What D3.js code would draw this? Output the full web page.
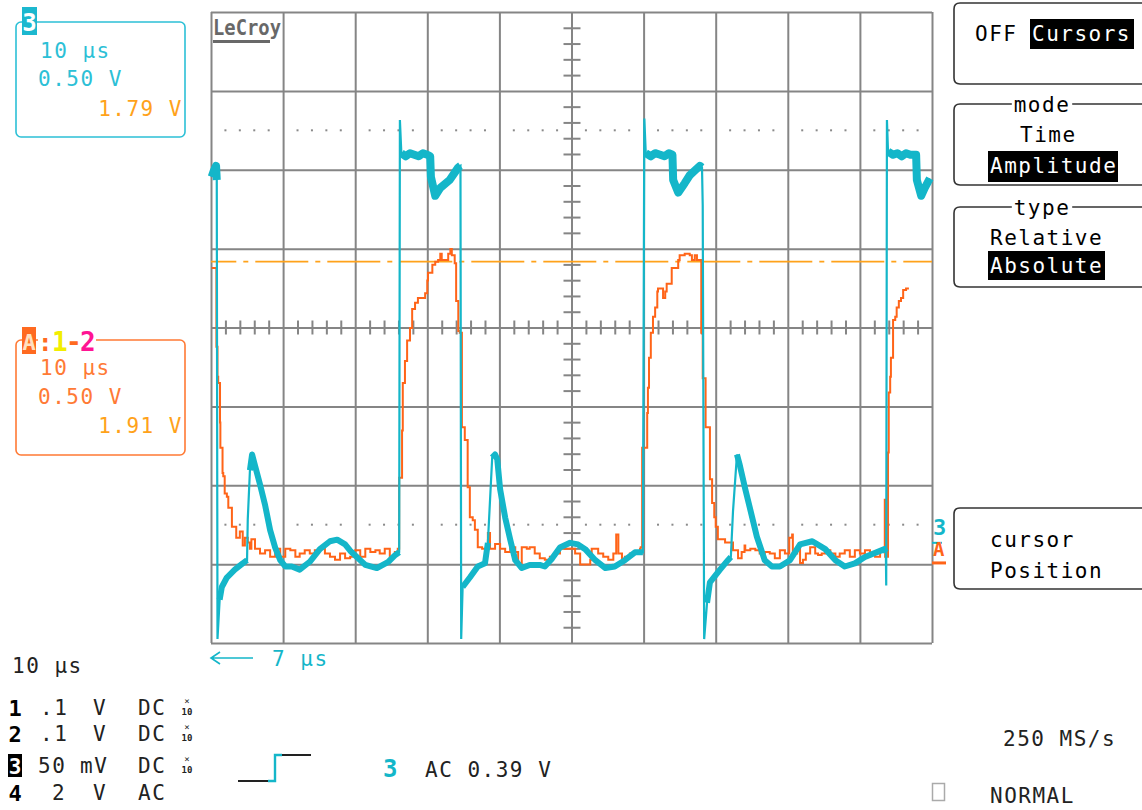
<!DOCTYPE html>
<html><head><meta charset="utf-8">
<script src="https://cdn.jsdelivr.net/npm/d3@7/dist/d3.min.js"></script>
<style>
html,body{margin:0;padding:0;background:#fff;}
svg{display:block;}
text{font-family:"DejaVu Sans Mono","Liberation Mono",monospace;}
</style></head>
<body>
<svg id="scope" width="1142" height="810"></svg>
<script>
// ---------------- DATA ----------------
// time axis: 10 divisions x 10 µs/div ; vertical: 8 divisions, 0.5 V/div
const timeDivs = d3.range(0, 101, 10);          // µs, major grid
const voltDivs = d3.range(-4, 5, 1);            // divisions, major grid
const voltsPerDiv = 0.5;
const ch3OffsetDiv = -2.73;                     // channel 3 ground level (div)
const mathAOffsetDiv = -2.985;                  // trace A ground level (div)
const cursorVolts = 1.91;                       // absolute amplitude cursor on A

// Channel 3 (cyan) : [time µs, volts]
const ch3Trace = [
 [0.1,2.32],[0.4,2.36],[0.7,2.39],[0.8,2.30],[0.9,-0.61],[1.2,-0.36],[1.5,-0.28],[2.2,-0.22],[3.3,-0.17],
 [4.4,-0.13],[5.0,-0.11],[5.1,0.15],[5.4,0.46],[5.7,0.56],[6.1,0.49],[6.8,0.37],[7.5,0.24],[8.2,0.08],
 [8.9,-0.03],[9.6,-0.11],[10.3,-0.15],[11.2,-0.15],[12.3,-0.17],[13.7,-0.12],[15.1,-0.04],[16.5,0.01],
 [17.5,0.02],[18.6,-0.01],[19.3,-0.05],[20.0,-0.08],[21.4,-0.14],[23.0,-0.16],[24.6,-0.12],[25.5,-0.08],
 [26.1,-0.06],[26.2,2.68],[26.4,2.47],[27.0,2.45],[27.6,2.47],[28.2,2.46],[28.8,2.45],[29.4,2.47],
 [30.0,2.46],[30.4,2.45],[30.5,2.32],[31.1,2.20],[31.8,2.25],[33.1,2.30],[34.3,2.38],[34.6,2.39],
 [34.7,-0.61],[34.9,-0.28],[35.9,-0.22],[37.0,-0.15],[38.0,-0.13],[38.4,0.0],[39.0,0.54],[39.4,0.56],
 [39.7,0.53],[40.1,0.34],[40.8,0.16],[41.5,0.02],[42.2,-0.11],[43.1,-0.16],[44.2,-0.14],[45.6,-0.14],
 [46.3,-0.15],[47.3,-0.10],[48.4,-0.03],[49.8,0.0],[50.9,-0.01],[51.9,-0.04],[53.3,-0.11],[54.7,-0.16],
 [56.0,-0.15],[57.4,-0.11],[58.8,-0.06],[59.9,-0.06],[60.1,2.69],[60.3,2.47],[61.0,2.45],[61.6,2.47],
 [62.3,2.46],[62.9,2.45],[63.5,2.47],[64.0,2.46],[64.1,2.30],[64.8,2.22],[65.7,2.28],[66.4,2.33],
 [67.8,2.39],[68.1,2.38],[68.2,2.14],[68.4,-0.61],[68.8,-0.38],[69.2,-0.25],[70.6,-0.17],[71.7,-0.11],
 [72.1,-0.09],[72.4,0.20],[72.95,0.56],[73.3,0.50],[74.1,0.34],[74.8,0.21],[75.7,0.04],[76.8,-0.11],
 [77.8,-0.15],[78.9,-0.15],[80.3,-0.11],[81.7,-0.01],[83.4,0.01],[85.2,-0.04],[86.6,-0.11],[87.9,-0.15],
 [89.3,-0.13],[90.7,-0.09],[93.4,-0.04],[93.6,-0.06],[93.65,-0.27],[93.75,2.68],[93.9,2.48],[94.6,2.46],
 [95.2,2.47],[95.8,2.45],[96.4,2.47],[97.0,2.46],[97.8,2.46],[97.9,2.30],[98.5,2.20],[99.0,2.25],[99.7,2.31]
];

// Trace A = 1-2 (orange) : [time µs, volts]
const mathATrace = [
 [0.1,1.87],[0.7,1.87],[0.75,1.37],[0.9,1.18],[1.0,1.14],[1.25,0.89],[1.3,0.73],[1.5,0.73],[1.6,0.57],
 [1.7,0.55],[1.9,0.44],[2.2,0.42],[2.4,0.35],[2.9,0.23],[3.5,0.16],[4.0,0.20],[4.4,0.11],[4.7,0.16],
 [5.1,0.13],[5.4,0.09],[5.6,0.15],[6.1,0.09],[6.8,0.06],[7.5,0.08],[8.2,0.04],[8.9,0.09],[9.6,0.04],
 [10.3,0.09],[11.0,0.08],[11.7,0.04],[12.3,0.06],[13.0,0.08],[13.7,0.06],[14.4,0.08],[15.1,0.09],
 [15.8,0.06],[16.5,0.04],[17.2,0.02],[17.9,0.06],[18.6,0.03],[19.3,0.04],[20.0,0.08],[20.7,0.04],
 [21.4,0.09],[22.1,0.07],[22.8,0.08],[23.4,0.06],[24.1,0.09],[24.8,0.04],[25.5,0.07],[25.9,0.09],
 [26.1,0.54],[26.5,0.84],[26.6,1.14],[26.9,1.28],[27.2,1.41],[27.6,1.49],[27.9,1.61],[28.3,1.65],
 [28.7,1.68],[29.3,1.68],[29.7,1.71],[30.0,1.79],[30.1,1.84],[30.7,1.89],[31.1,1.91],[31.5,1.92],
 [31.8,1.96],[32.0,1.92],[32.5,1.92],[32.9,1.96],[33.2,1.99],[33.4,1.95],[33.8,1.90],[34.0,1.66],
 [34.3,1.47],[34.5,1.46],[34.8,0.86],[35.2,0.78],[35.6,0.48],[35.9,0.29],[36.3,0.27],[36.6,0.21],
 [37.0,0.10],[37.6,0.09],[38.3,0.09],[38.4,0.19],[38.7,0.09],[39.4,0.12],[40.1,0.09],[40.8,0.07],
 [41.5,0.10],[42.2,0.07],[42.6,0.0],[43.1,0.10],[43.8,0.09],[44.2,0.10],[44.9,0.06],[45.6,0.03],
 [46.3,0.02],[47.0,0.04],[47.7,0.06],[48.4,0.09],[49.5,0.09],[50.5,0.06],[51.2,-0.01],[52.6,0.02],
 [52.8,0.09],[53.7,0.06],[54.4,0.04],[55.1,0.02],[55.8,0.06],[56.2,0.18],[56.5,0.06],[57.0,0.02],
 [57.4,0.04],[58.1,0.06],[58.8,0.06],[59.5,0.09],[59.6,0.10],[59.8,0.73],[60.5,0.95],[60.6,1.11],
 [60.75,1.30],[61.0,1.46],[61.3,1.56],[61.6,1.62],[61.9,1.72],[62.0,1.74],[62.7,1.68],[63.0,1.72],
 [63.2,1.77],[63.9,1.87],[64.5,1.87],[64.8,1.92],[65.0,1.95],[65.7,1.96],[66.4,1.95],[66.7,1.92],
 [67.1,1.95],[67.4,1.92],[67.8,1.92],[68.0,1.46],[68.2,1.17],[68.6,0.86],[69.2,0.53],[69.5,0.38],
 [69.8,0.29],[70.0,0.23],[70.3,0.15],[71.3,0.13],[72.4,0.08],[73.1,0.03],[73.6,0.07],[74.0,0.11],
 [74.1,0.08],[74.8,0.09],[75.5,0.08],[76.1,0.06],[76.8,0.07],[77.5,0.06],[78.2,0.03],[78.9,0.08],
 [79.6,0.06],[80.2,0.16],[80.6,0.18],[80.7,0.06],[81.3,0.09],[81.7,0.0],[82.1,0.02],[82.5,0.06],
 [83.1,0.10],[83.8,0.06],[84.2,0.05],[84.7,0.06],[85.2,0.08],[85.9,0.06],[86.6,0.04],[87.2,0.06],
 [87.9,0.08],[88.6,0.04],[89.3,0.08],[90.0,0.06],[90.7,0.08],[91.4,0.06],[92.1,0.04],[92.8,0.08],
 [93.3,0.09],[93.45,0.40],[93.5,0.04],[93.9,0.70],[94.0,1.08],[94.2,1.18],[94.3,1.30],[94.6,1.54],
 [94.9,1.56],[95.1,1.62],[95.4,1.66],[95.7,1.68],[96.0,1.73],[96.4,1.74],[96.8,1.74]
];

// text content
const ch3Box = ["10 µs", "0.50 V", "1.79 V"];
const mathBox = ["10 µs", "0.50 V", "1.91 V"];
const channelRows = [
  {ch:"1", val:".1", unit:"V", cpl:"DC", probe:true},
  {ch:"2", val:".1", unit:"V", cpl:"DC", probe:true},
  {ch:"3", val:"50", unit:"mV", cpl:"DC", probe:true},
  {ch:"4", val:"2", unit:"V", cpl:"AC", probe:false}
];
const timebaseLabel = "10 µs";
const delayLabel = "7 µs";
const triggerLabel = "AC 0.39 V";
const sampleRate = "250 MS/s";
const trigMode = "NORMAL";

// ---------------- DRAW ----------------
const svg = d3.select("#scope");
const CYAN = "#14b6c9", ORANGE = "#ff6418", AMBER = "#ffa21a", GRID = "#858585";
const x = d3.scaleLinear().domain([0, 100]).range([211, 932]);
const y = d3.scaleLinear().domain([-4, 4]).range([643, 12]);
const yCh3 = v => y(v / voltsPerDiv + ch3OffsetDiv);
const yA = v => y(v / voltsPerDiv + mathAOffsetDiv);

// grid
const g = svg.append("g");
g.append("g").attr("transform", `translate(0,${y(-4)})`)
  .call(d3.axisBottom(x).tickValues(timeDivs).tickSize(y(-4) - y(4)).tickFormat(""))
  .call(a => { a.select(".domain").remove(); a.selectAll("line").attr("y2", -(y(-4) - y(4))).attr("stroke", GRID).attr("stroke-width", 2); });
g.append("g").attr("transform", `translate(${x(0)},0)`)
  .call(d3.axisLeft(y).tickValues(voltDivs).tickSize(0).tickFormat(""))
  .call(a => { a.select(".domain").remove(); a.selectAll("line").attr("x2", x(100) - x(0)).attr("stroke", GRID).attr("stroke-width", 2); });

// center crosshair minor ticks
const minorT = d3.range(0, 100.01, 2).filter(t => t % 10 !== 0);
const minorV = d3.range(-4, 4.01, 0.2).map(v => +v.toFixed(1)).filter(v => Math.abs(v - Math.round(v)) > 1e-6);
g.append("g").attr("transform", `translate(0,${y(0) - 7})`)
  .call(d3.axisBottom(x).tickValues(minorT).tickSize(14).tickFormat(""))
  .call(a => { a.select(".domain").remove(); a.selectAll("line").attr("stroke", GRID).attr("stroke-width", 2); });
g.append("g").attr("transform", `translate(${x(50) - 8},0)`)
  .call(d3.axisRight(y).tickValues(minorV).tickSize(17).tickFormat(""))
  .call(a => { a.select(".domain").remove(); a.selectAll("line").attr("stroke", GRID).attr("stroke-width", 2); });

// dotted reference lines at +/-2.5 div
[2.5, -2.5].forEach(lv => {
  g.selectAll(null).data(minorT.filter(t => t !== 50)).enter().append("rect")
    .attr("x", d => x(d) - 1).attr("y", y(lv) - 1).attr("width", 2).attr("height", 2).attr("fill", "#8a8a8a");
});

// LeCroy logo
svg.append("text").attr("x", 213).attr("y", 35).attr("font-size", 21).attr("font-weight", "bold")
  .attr("fill", "#686868").attr("textLength", 68).attr("lengthAdjust", "spacingAndGlyphs").text("LeCroy");
svg.append("rect").attr("x", 213).attr("y", 40).attr("width", 57).attr("height", 3).attr("fill", "#686868");

// cursor line (dash-dot)
svg.append("line").attr("x1", x(0)).attr("x2", x(100)).attr("y1", yA(cursorVolts)).attr("y2", yA(cursorVolts))
  .attr("stroke", AMBER).attr("stroke-width", 1.6).attr("stroke-dasharray", "53,7,5,7").attr("stroke-dashoffset", 27.7);

// traces
const lineA = d3.line().x(d => x(d[0])).y(d => yA(d[1])).curve(d3.curveStepAfter);
svg.append("path").attr("d", lineA(mathATrace)).attr("fill", "none").attr("stroke", ORANGE).attr("stroke-width", 2);

const line3 = d3.line().x(d => x(d[0])).y(d => yCh3(d[1]));
svg.append("path").attr("d", line3(ch3Trace)).attr("fill", "none").attr("stroke", CYAN).attr("stroke-width", 2.2);
// thicker noise band on the slow parts (split at fast edges)
const segs = []; let cur = [ch3Trace[0]];
for (let i = 1; i < ch3Trace.length; i++) {
  if (Math.abs(ch3Trace[i][1] - ch3Trace[i - 1][1]) > 0.2) { segs.push(cur); cur = []; }
  cur.push(ch3Trace[i]);
}
segs.push(cur);
segs.filter(s => s.length > 1).forEach(s => {
  const hi = d3.mean(s, d => d[1]) > 1.5;
  svg.append("path").attr("d", line3(s)).attr("fill", "none").attr("stroke", CYAN)
    .attr("stroke-width", hi ? 8 : 6).attr("stroke-linejoin", "round");
});

// ground markers at right edge
svg.append("text").attr("x", 933).attr("y", 535).attr("font-size", 22).attr("font-weight", "bold").attr("fill", CYAN).text("3");
svg.append("line").attr("x1", 932).attr("x2", 942).attr("y1", yCh3(0)).attr("y2", yCh3(0)).attr("stroke", CYAN).attr("stroke-width", 2);
svg.append("text").attr("x", 933).attr("y", 556).attr("font-size", 19).attr("font-weight", "bold").attr("fill", ORANGE).text("A");
svg.append("line").attr("x1", 932).attr("x2", 946).attr("y1", yA(0)).attr("y2", yA(0)).attr("stroke", ORANGE).attr("stroke-width", 3);

// text helper
const FS = 21, LS = 1.5;
function txt(xp, yp, s, fill, opts = {}) {
  const t = svg.append("text").attr("x", xp).attr("y", yp).attr("font-size", opts.fs || FS)
    .attr("letter-spacing", opts.ls != null ? opts.ls : LS).attr("fill", fill || "#000").text(s);
  if (opts.bold) t.attr("font-weight", "bold");
  if (opts.anchor) t.attr("text-anchor", opts.anchor);
  return t;
}

// left info boxes
svg.append("rect").attr("x", 16).attr("y", 22).attr("width", 169).attr("height", 115).attr("rx", 5)
  .attr("fill", "none").attr("stroke", "#2cc0d6").attr("stroke-width", 1.6);
svg.append("rect").attr("x", 22).attr("y", 7).attr("width", 15).attr("height", 28).attr("fill", "#1cb8cf");
txt(29.5, 31, "3", "#fff", {fs: 24, bold: true, ls: 0, anchor: "middle"});
txt(40, 58, ch3Box[0], "#2cc0d6");
txt(38, 86, ch3Box[1], "#2cc0d6");
txt(183, 116, ch3Box[2], AMBER, {anchor: "end"});

svg.append("rect").attr("x", 16).attr("y", 340).attr("width", 169).attr("height", 115).attr("rx", 5)
  .attr("fill", "none").attr("stroke", "#ff7a35").attr("stroke-width", 1.6);
svg.append("rect").attr("x", 38).attr("y", 334).attr("width", 58).attr("height", 12).attr("fill", "#fff");
svg.append("rect").attr("x", 22).attr("y", 327).attr("width", 14).attr("height", 27).attr("fill", "#ff6a20");
txt(29, 350, "A", "#ffe0c0", {fs: 22, bold: true, ls: 0, anchor: "middle"});
txt(38, 351, ":", "#ff6a20", {fs: 24, bold: true, ls: 0});
txt(52, 351, "1", "#f2ee00", {fs: 26, bold: true, ls: 0});
txt(66, 351, "-", "#ff6a20", {fs: 26, bold: true, ls: 0});
txt(80, 351, "2", "#ff1493", {fs: 26, bold: true, ls: 0});
txt(40, 375, mathBox[0], "#ff7a35");
txt(38, 404, mathBox[1], "#ff7a35");
txt(183, 433, mathBox[2], AMBER, {anchor: "end"});

// right menu
function menuBox(y0, y1, label) {
  const gg = svg.append("g");
  gg.append("path").attr("d", `M1142,${y0} H960 Q954,${y0} 954,${y0 + 6} V${y1 - 6} Q954,${y1} 960,${y1} H1142`)
    .attr("fill", "none").attr("stroke", "#333").attr("stroke-width", 1.6);
  if (label) {
    const w = label.length * 14.1 + 4;
    gg.append("rect").attr("x", 1042 - w / 2).attr("y", y0 - 4).attr("width", w).attr("height", 8).attr("fill", "#fff");
    txt(1042, y0 + 8, label, "#000", {anchor: "middle"});
  }
}
menuBox(3, 84);
menuBox(104, 185, "mode");
menuBox(207, 287, "type");
menuBox(508, 589);
function inv(x0, y0, w, h, s, tx, ty) {
  svg.append("rect").attr("x", x0).attr("y", y0).attr("width", w).attr("height", h).attr("fill", "#000");
  txt(tx, ty, s, "#fff");
}
txt(975, 41, "OFF", "#000");
inv(1030, 19, 104, 30, "Cursors", 1032, 41);
txt(1020, 142, "Time", "#000");
inv(988, 151, 130, 31, "Amplitude", 990, 173);
txt(990, 245, "Relative", "#000");
inv(988, 251, 117, 29, "Absolute", 990, 273);
txt(990, 547, "cursor", "#000");
txt(990, 578, "Position", "#000");

// delay indicator
svg.append("path").attr("d", "M253,658 H212 M220,652 L211,658 L220,664").attr("fill", "none").attr("stroke", CYAN).attr("stroke-width", 1.6);
txt(272, 666, delayLabel, CYAN);

// bottom-left channel settings
txt(12, 673, timebaseLabel, "#222");
const rowBase = [715, 741, 773, 800];
channelRows.forEach((r, i) => {
  const yb = rowBase[i];
  if (r.ch === "3") {
    svg.append("rect").attr("x", 8).attr("y", yb - 19).attr("width", 14).attr("height", 23).attr("fill", "#000");
    txt(15, yb + 1, r.ch, "#fff", {fs: 21, bold: true, ls: 0, anchor: "middle"});
  } else {
    txt(15, yb + 1, r.ch, "#000", {fs: 22, bold: true, ls: 0, anchor: "middle"});
  }
  const vx = r.val.length === 2 && r.val[0] !== "." ? 38 : (r.val.length === 1 ? 52 : 40);
  txt(vx, yb, r.val, "#222");
  txt(r.unit.length === 2 ? 80 : 93, yb, r.unit, "#222");
  txt(138, yb, r.cpl, "#222");
  if (r.probe) {
    txt(187, yb - 11, "×", "#222", {fs: 9, ls: 0, anchor: "middle"});
    txt(187, yb, "10", "#222", {fs: 9, bold: true, ls: 0, anchor: "middle"});
  }
});

// trigger symbol
svg.append("path").attr("d", "M238,781 H268").attr("stroke", "#222").attr("stroke-width", 2).attr("fill", "none");
svg.append("path").attr("d", "M268,781 H275 V755 H282").attr("stroke", CYAN).attr("stroke-width", 2.4).attr("fill", "none");
svg.append("path").attr("d", "M282,755 H311").attr("stroke", "#222").attr("stroke-width", 2).attr("fill", "none");
txt(383, 777, "3", CYAN, {fs: 24, bold: true, ls: 0});
txt(425, 777, triggerLabel, "#222");

// bottom-right
txt(1003, 746, sampleRate, "#222");
svg.append("rect").attr("x", 932.5).attr("y", 783.5).attr("width", 12).attr("height", 17).attr("fill", "none").attr("stroke", "#aaa").attr("stroke-width", 1.5);
txt(990, 803, trigMode, "#222");
</script>
</body></html>
